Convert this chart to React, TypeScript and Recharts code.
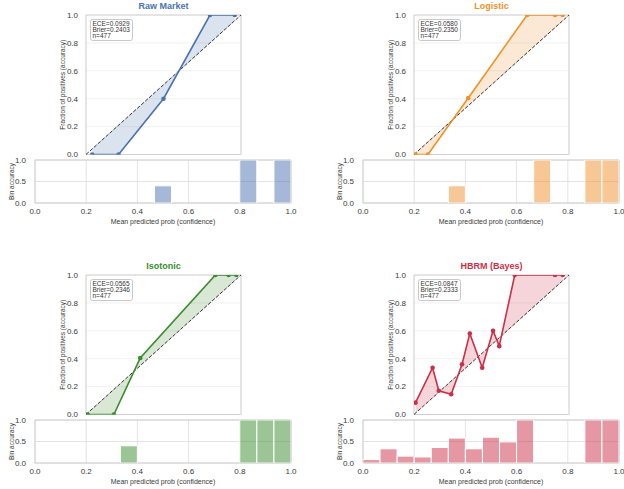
import { ComposedChart, Bar, Line, Area, XAxis, YAxis, CartesianGrid, ReferenceLine, ReferenceArea, Label } from 'recharts'

const FONT = '"Liberation Sans", Arial, sans-serif'
const TICK_COLOR = '#3a3a3a'

// axis ticks
const PROB_TICKS = [0, 0.2, 0.4, 0.6, 0.8, 1]
const BIN_TICKS = [0, 0.5, 1]
// centres of the 15 confidence bins
const BIN_CENTERS = [0.0333, 0.1, 0.1667, 0.2333, 0.3, 0.3667, 0.4333, 0.5, 0.5667, 0.6333, 0.7, 0.7667, 0.8333, 0.9, 0.9667]

// Raw Market
const RAW_CONF = [0.04, 0.21, 0.5, 0.8, 0.96]
const RAW_ACC = [0, 0, 0.4, 1, 1]
const RAW_BIN_ACC = [0, null, null, 0, null, null, null, 0.4, null, null, null, null, 1, null, 1]
const RAW_STATS = ['ECE=0.0929', 'Brier=0.2403', 'n=477']

// Logistic
const LOG_CONF = [0.01, 0.09, 0.35, 0.73, 0.91, 0.96]
const LOG_ACC = [0, 0, 0.405, 1, 1, 1]
const LOG_BIN_ACC = [0, 0, null, null, null, 0.4, null, null, null, null, 1, null, null, 1, 1]
const LOG_STATS = ['ECE=0.0580', 'Brier=0.2350', 'n=477']

// Isotonic
const ISO_CONF = [0.01, 0.18, 0.35, 0.835, 0.92, 0.97]
const ISO_ACC = [0, 0, 0.405, 1, 1, 1]
const ISO_BIN_ACC = [0, null, 0, null, null, 0.4, null, null, null, null, null, null, 1, 1, 1]
const ISO_STATS = ['ECE=0.0565', 'Brier=0.2346', 'n=477']

// HBRM (Bayes)
const HB_CONF = [0.01, 0.12, 0.16, 0.24, 0.31, 0.36, 0.44, 0.51, 0.55, 0.65, 0.91, 0.96]
const HB_ACC = [0.085, 0.335, 0.17, 0.145, 0.36, 0.58, 0.335, 0.6, 0.49, 1, 1, 1]
const HB_BIN_ACC = [0.08, 0.33, 0.16, 0.14, 0.36, 0.58, 0.33, 0.6, 0.49, 1, null, null, null, 1, 1]
const HB_STATS = ['ECE=0.0847', 'Brier=0.2333', 'n=477']

const fmt1 = (v: number) => v.toFixed(1)

function Reliability({ conf, acc, color }: { conf: number[]; acc: number[]; color: string }) {
  const data = conf.map((x, i) => ({ x, acc: acc[i], band: [x, acc[i]] }))
  return (
    <ComposedChart width={245} height={160} data={data} margin={{ top: 15, right: 4, bottom: 5.5, left: 0 }}>
      <CartesianGrid stroke="#efefef" strokeWidth={0.8} />
      <XAxis dataKey="x" type="number" domain={[0, 1]} ticks={PROB_TICKS} tick={false} tickLine={false}
        axisLine={false} height={0} allowDataOverflow />
      <YAxis type="number" domain={[0, 1]} ticks={PROB_TICKS} width={86} tickFormatter={fmt1} interval={0}
        tick={{ fontSize: 8, fill: TICK_COLOR }} tickLine={false} tickSize={0} tickMargin={8}
        axisLine={false} allowDataOverflow>
        <Label value="Fraction of positives (accuracy)" angle={-90} position="insideLeft" offset={63}
          style={{ textAnchor: 'middle', fontSize: 6.5, fill: TICK_COLOR }} />
      </YAxis>
      <Area dataKey="band" type="linear" stroke="none" fill={color} fillOpacity={0.2} isAnimationActive={false} />
      <ReferenceLine segment={[{ x: 0, y: 0 }, { x: 1, y: 1 }]} stroke="#333" strokeWidth={1} strokeDasharray="3.7 1.6" />
      <Line dataKey="acc" type="linear" stroke={color} strokeWidth={1.6}
        dot={{ r: 2.3, fill: color, stroke: 'none' }} activeDot={false} isAnimationActive={false} />
      <ReferenceArea x1={0} x2={1} y1={0} y2={1} fill="none" stroke="#d0d0d0" strokeWidth={1} />
    </ComposedChart>
  )
}

function BinAccuracy({ binAcc, color }: { binAcc: (number | null)[]; color: string }) {
  const data = BIN_CENTERS.map((c, i) => ({ c, acc: binAcc[i] }))
  return (
    <ComposedChart width={305} height={75} data={data} margin={{ top: 5, right: 14, bottom: 0, left: 0 }}
      barCategoryGap={0} barGap={0}>
      <CartesianGrid stroke="#dcdcdc" strokeWidth={0.8} />
      <XAxis dataKey="c" type="number" domain={[0, 1]} ticks={PROB_TICKS} tickFormatter={fmt1} interval={0}
        tick={{ fontSize: 8, fill: TICK_COLOR }} tickLine={false} tickSize={0} tickMargin={5}
        axisLine={false} height={27} allowDataOverflow>
        <Label value="Mean predicted prob (confidence)" position="insideBottom" offset={6}
          style={{ fontSize: 7, fill: TICK_COLOR }} />
      </XAxis>
      <YAxis type="number" domain={[0, 1]} ticks={BIN_TICKS} width={35} tickFormatter={fmt1} interval={0}
        tick={{ fontSize: 8, fill: TICK_COLOR }} tickLine={false} tickSize={0} tickMargin={9}
        axisLine={false} allowDataOverflow>
        <Label value="Bin accuracy" angle={-90} position="insideLeft" offset={12}
          style={{ textAnchor: 'middle', fontSize: 6.5, fill: TICK_COLOR }} />
      </YAxis>
      <Bar dataKey="acc" fill={color} fillOpacity={0.5} stroke="#fff" strokeWidth={1}
        isAnimationActive={false} />
      <ReferenceArea x1={0} x2={1} y1={0} y2={1} fill="none" stroke="#d0d0d0" strokeWidth={1} />
    </ComposedChart>
  )
}

function Panel(props: {
  title: string; color: string; left: number; top: number
  conf: number[]; acc: number[]; binAcc: (number | null)[]; stats: string[]
}) {
  const { title, color, left, top, conf, acc, binAcc, stats } = props
  return (
    <div style={{ position: 'absolute', left, top, width: 296, height: 232 }}>
      <div style={{ position: 'absolute', left: 0, top: 0 }}>
        <Reliability conf={conf} acc={acc} color={color} />
      </div>
      <div style={{ position: 'absolute', left: 0, top: 155 }}>
        <BinAccuracy binAcc={binAcc} color={color} />
      </div>
      <div style={{
        position: 'absolute', left: 86, width: 155, top: 0, textAlign: 'center',
        fontSize: 9, fontWeight: 700, lineHeight: '13px', color,
      }}>
        {title}
      </div>
      <div style={{
        position: 'absolute', left: 90, top: 19, background: 'rgba(255,255,255,0.85)',
        border: '0.8px solid #c8c8c8', borderRadius: 2.5, padding: '0.5px 2px 0.5px 1.5px',
        fontSize: 6.5, lineHeight: '6.2px', color: '#333', whiteSpace: 'nowrap',
      }}>
        {stats.map(s => <div key={s}>{s}</div>)}
      </div>
    </div>
  )
}

export default function App() {
  return (
    <div style={{ position: 'absolute', left: 0, top: 0, width: 624, height: 489, background: '#fff', fontFamily: FONT }}>
      <Panel title="Raw Market" color="#4C72B0" left={0} top={0}
        conf={RAW_CONF} acc={RAW_ACC} binAcc={RAW_BIN_ACC} stats={RAW_STATS} />
      <Panel title="Logistic" color="#F0922B" left={328} top={0}
        conf={LOG_CONF} acc={LOG_ACC} binAcc={LOG_BIN_ACC} stats={LOG_STATS} />
      <Panel title="Isotonic" color="#3A8C2E" left={0} top={260}
        conf={ISO_CONF} acc={ISO_ACC} binAcc={ISO_BIN_ACC} stats={ISO_STATS} />
      <Panel title="HBRM (Bayes)" color="#CC2F48" left={328} top={260}
        conf={HB_CONF} acc={HB_ACC} binAcc={HB_BIN_ACC} stats={HB_STATS} />
    </div>
  )
}
